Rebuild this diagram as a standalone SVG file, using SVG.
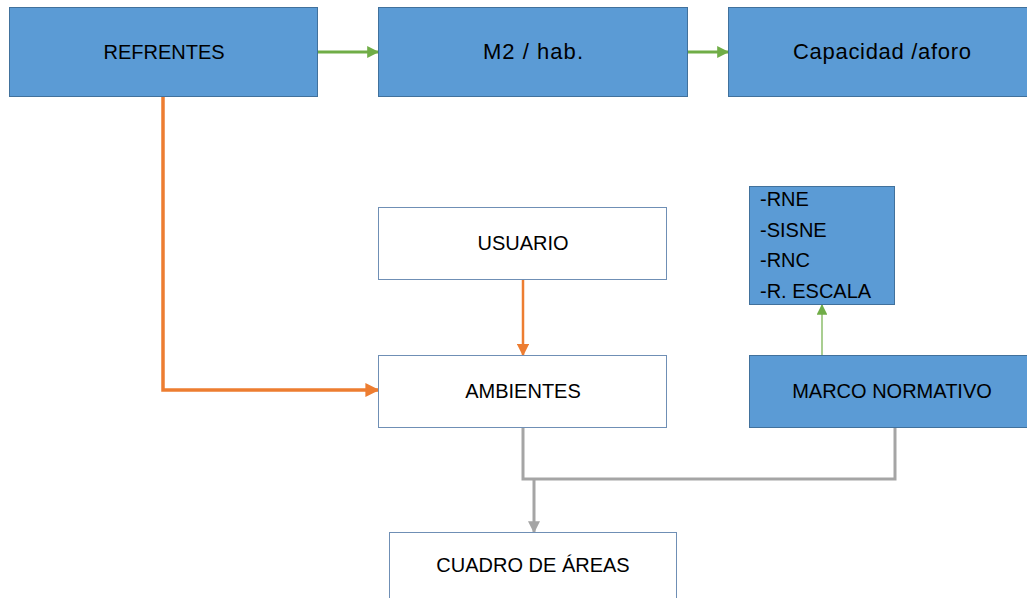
<svg xmlns="http://www.w3.org/2000/svg" width="1027" height="598" viewBox="0 0 1027 598">
<style>
.blue{fill:#5b9bd5;stroke:#41719c;stroke-width:1}
.white{fill:#ffffff;stroke:#6f8fb5;stroke-width:1}
text{font-family:"Liberation Sans",Arial,sans-serif;font-size:20px;fill:#000}
.c{text-anchor:middle}
.lc{font-size:22px}
</style>
<defs>
<marker id="ag" viewBox="0 0 10 10" refX="9" refY="5" markerWidth="4" markerHeight="4" orient="auto" markerUnits="strokeWidth"><path d="M0,0 L10,5 L0,10 z" fill="#70ad47"/></marker>
<marker id="agt" viewBox="0 0 10 10" refX="9" refY="5" markerWidth="9" markerHeight="9" orient="auto" markerUnits="strokeWidth"><path d="M0,0 L10,5 L0,10 z" fill="#70ad47"/></marker>
<marker id="ao" viewBox="0 0 10 10" refX="9" refY="5" markerWidth="4" markerHeight="4" orient="auto" markerUnits="strokeWidth"><path d="M0,0 L10,5 L0,10 z" fill="#ed7d31"/></marker>
<marker id="aos" viewBox="0 0 10 10" refX="9" refY="5" markerWidth="5" markerHeight="5" orient="auto" markerUnits="strokeWidth"><path d="M0,0 L10,5 L0,10 z" fill="#ed7d31"/></marker>
<marker id="ay" viewBox="0 0 10 10" refX="9" refY="5" markerWidth="4" markerHeight="4" orient="auto" markerUnits="strokeWidth"><path d="M0,0 L10,5 L0,10 z" fill="#a5a5a5"/></marker>
</defs>
<g id="connectors" fill="none">
<line x1="318" y1="52" x2="378" y2="52" stroke="#70ad47" stroke-width="3" marker-end="url(#ag)"/>
<line x1="688" y1="52" x2="728" y2="52" stroke="#70ad47" stroke-width="3" marker-end="url(#ag)"/>
<polyline points="163,96 163,390 378,390" stroke="#ed7d31" stroke-width="3.5" marker-end="url(#ao)"/>
<line x1="523" y1="279" x2="523" y2="355" stroke="#ed7d31" stroke-width="2.5" marker-end="url(#aos)"/>
<line x1="822" y1="355" x2="822" y2="305" stroke="#70ad47" stroke-width="1.2" marker-end="url(#agt)"/>
<polyline points="523,428 523,479 895,479 895,428" stroke="#a5a5a5" stroke-width="3"/>
<line x1="534" y1="479" x2="534" y2="532" stroke="#a5a5a5" stroke-width="3" marker-end="url(#ay)"/>
</g>
<g id="refrentes"><rect class="blue" x="9.5" y="7.5" width="308" height="89"/><text class="c" x="164" y="59">REFRENTES</text></g>
<g id="m2hab"><rect class="blue" x="378.5" y="7.5" width="309" height="89"/><text class="c lc" x="533" y="59" textLength="100" lengthAdjust="spacing">M2 / hab.</text></g>
<g id="capacidad"><rect class="blue" x="728.5" y="7.5" width="310" height="89"/><text class="c lc" x="882" y="59" textLength="178" lengthAdjust="spacing">Capacidad /aforo</text></g>
<g id="usuario"><rect class="white" x="378.5" y="207.5" width="288" height="72"/><text class="c" x="523" y="250">USUARIO</text></g>
<g id="ambientes"><rect class="white" x="378.5" y="355.5" width="288" height="72"/><text class="c" x="523" y="398">AMBIENTES</text></g>
<g id="normas"><rect class="blue" x="749.5" y="186.5" width="145" height="118"/>
<text x="760" y="206">-RNE</text><text x="760" y="237">-SISNE</text><text x="760" y="267">-RNC</text><text x="760" y="298">-R. ESCALA</text></g>
<g id="marco"><rect class="blue" x="749.5" y="355.5" width="290" height="72"/><text class="c" x="892" y="398">MARCO NORMATIVO</text></g>
<g id="cuadro"><rect class="white" x="389.5" y="532.5" width="287" height="80"/><text class="c" x="533" y="572">CUADRO DE ÁREAS</text></g>
</svg>
